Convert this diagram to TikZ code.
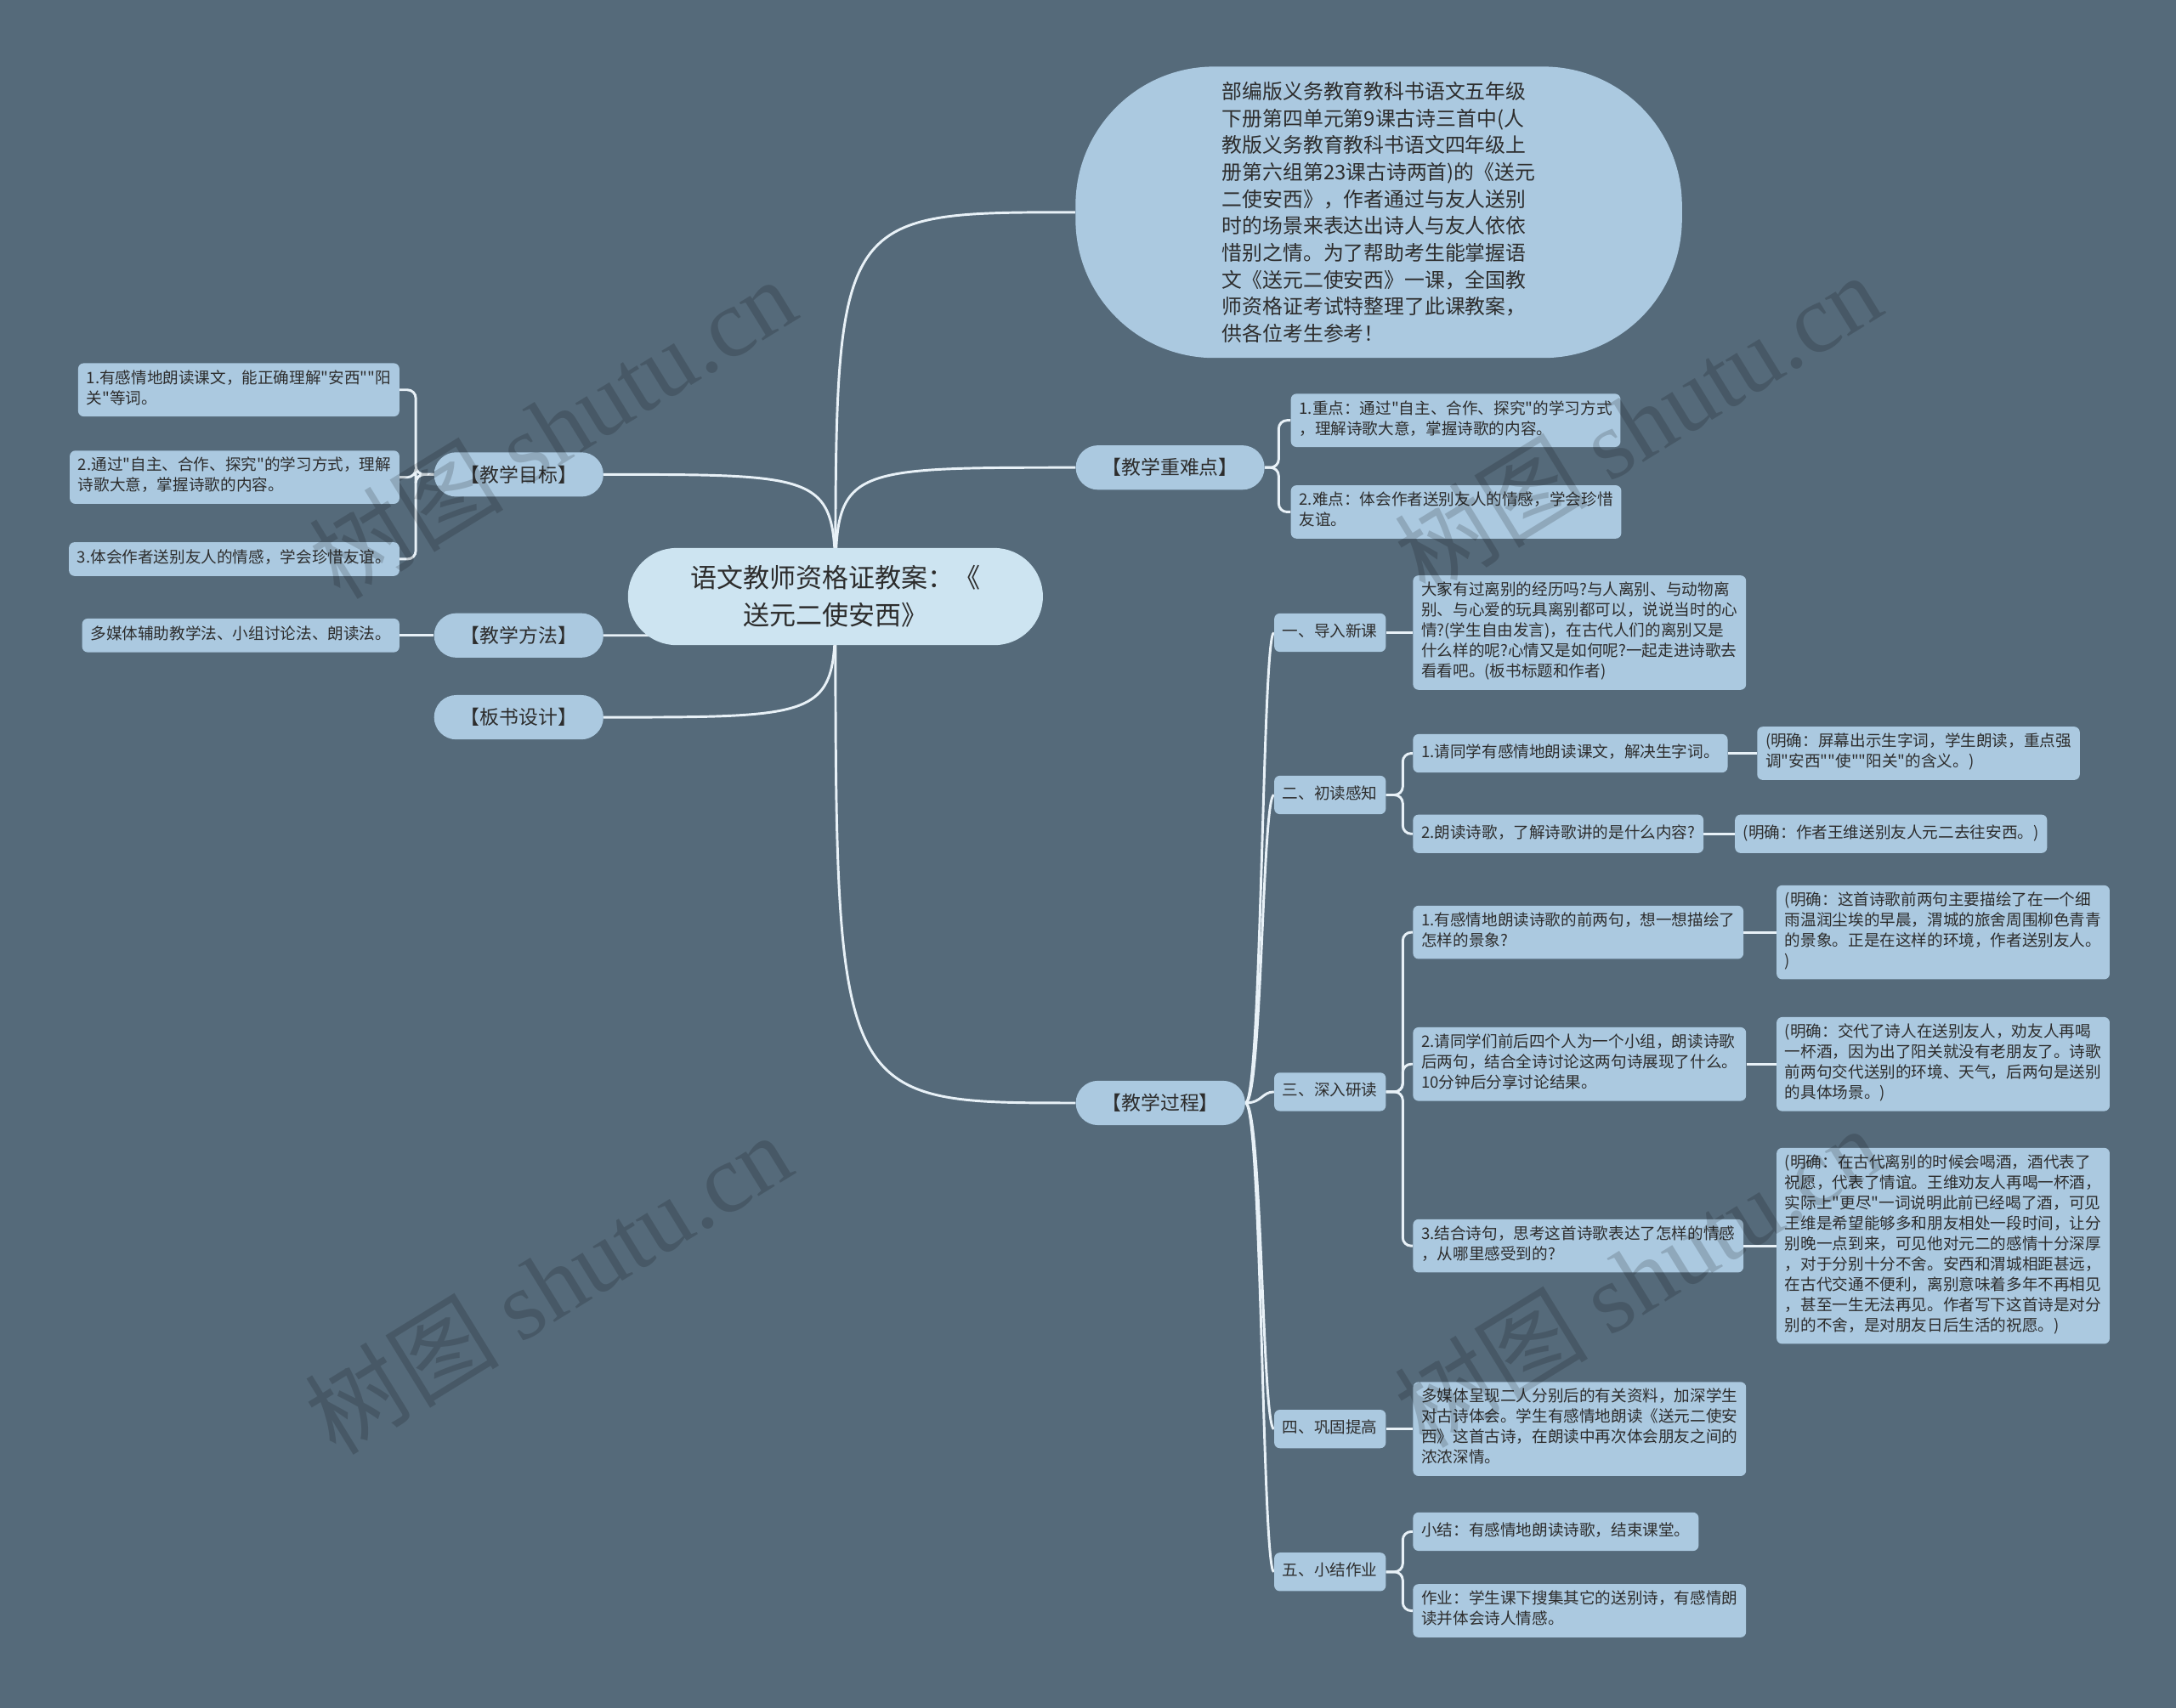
\documentclass[tikz,border=0pt]{standalone}
\usepackage{fontspec}
\setmainfont{Noto Sans CJK SC}[Ligatures=TeXOff]
\newfontfamily\wmserif{Liberation Serif}
\usetikzlibrary{calc}
\definecolor{bgc}{RGB}{85,106,122}
\definecolor{nodec}{RGB}{171,201,224}
\definecolor{rootc}{RGB}{205,228,241}
\definecolor{linec}{RGB}{232,241,247}
\definecolor{txtc}{RGB}{45,45,45}
\pgfdeclarelayer{bglayer}
\pgfdeclarelayer{linelayer}
\pgfsetlayers{bglayer,linelayer,main}
\tikzset{
  conn/.style={draw=linec, line width=1.8pt},
  leaf/.style={fill=nodec, text=txtc, rounded corners=4pt, align=left,
    inner xsep=6pt, inner ysep=4.8pt, font=\fontsize{11.4}{14.7}\selectfont,
    execute at begin node=\strut, execute at end node=\strut},
  mid/.style={leaf, inner ysep=6.5pt},
  pill/.style={fill=nodec, text=txtc, rounded corners=16pt, minimum height=32pt,
    inner xsep=19pt, font=\fontsize{14}{18}\selectfont},
  rootnode/.style={fill=rootc, text=txtc, rounded corners=35pt, minimum width=299pt,
    minimum height=70pt, align=center, font=\fontsize{19}{27}\selectfont},
  topbubble/.style={fill=nodec, text=txtc, rounded corners=100pt, minimum width=437pt,
    minimum height=210pt, align=left, font=\fontsize{14.6}{19.4}\selectfont},
  wm/.style={text=black, text opacity=0.16, font=\fontsize{70}{76}\selectfont, rotate=31.6}
}
\begin{document}
\begin{tikzpicture}[x=1pt,y=-1pt]
\useasboundingbox (0,0) rectangle (1568,1231);
\begin{pgfonlayer}{bglayer}
\fill[bgc] (0,0) rectangle (1568,1231);
\end{pgfonlayer}

% root and main branches
\node[rootnode] (root) at (602,430) {语文教师资格证教案：《\\送元二使安西》};
\node[topbubble] (intro) at (993.5,153) {部编版义务教育教科书语文五年级\\下册第四单元第9课古诗三首中(人\\教版义务教育教科书语文四年级上\\册第六组第23课古诗两首)的《送元\\二使安西》，作者通过与友人送别\\时的场景来表达出诗人与友人依依\\惜别之情。为了帮助考生能掌握语\\文《送元二使安西》一课，全国教\\师资格证考试特整理了此课教案，\\供各位考生参考！};
\node[pill, anchor=east] (goal) at (435,342) {【教学目标】};
\node[pill, anchor=east] (method) at (435,458) {【教学方法】};
\node[pill, anchor=east] (board) at (435,517) {【板书设计】};
\node[pill, anchor=west] (key) at (775,337) {【教学重难点】};
\node[pill, anchor=west] (proc) at (775,795) {【教学过程】};

% left leaves
\node[leaf, anchor=east] (g1) at (288,281) {1.有感情地朗读课文，能正确理解"安西""阳\\关"等词。};
\node[leaf, anchor=east] (g2) at (288,344) {2.通过"自主、合作、探究"的学习方式，理解\\诗歌大意，掌握诗歌的内容。};
\node[leaf, anchor=east] (g3) at (288,403) {3.体会作者送别友人的情感，学会珍惜友谊。};
\node[leaf, anchor=east] (m1) at (288,458) {多媒体辅助教学法、小组讨论法、朗读法。};

% key points
\node[leaf, anchor=west] (k1) at (930,303) {1.重点：通过"自主、合作、探究"的学习方式\\，理解诗歌大意，掌握诗歌的内容。};
\node[leaf, anchor=west] (k2) at (930,369) {2.难点：体会作者送别友人的情感，学会珍惜\\友谊。};

% process
\node[mid, anchor=west] (s1) at (918,456) {一、导入新课};
\node[mid, anchor=west] (s2) at (918,573) {二、初读感知};
\node[mid, anchor=west] (s3) at (918,787) {三、深入研读};
\node[mid, anchor=west] (s4) at (918,1030) {四、巩固提高};
\node[mid, anchor=west] (s5) at (918,1133) {五、小结作业};

\node[leaf, anchor=west] (s1l) at (1018,456) {大家有过离别的经历吗?与人离别、与动物离\\别、与心爱的玩具离别都可以，说说当时的心\\情?(学生自由发言)，在古代人们的离别又是\\什么样的呢?心情又是如何呢?一起走进诗歌去\\看看吧。(板书标题和作者)};

\node[mid, anchor=west] (s2a) at (1018,543) {1.请同学有感情地朗读课文，解决生字词。};
\node[leaf, anchor=west] (s2al) at (1266,543) {(明确：屏幕出示生字词，学生朗读，重点强\\调"安西""使""阳关"的含义。)};
\node[mid, anchor=west] (s2b) at (1018,601) {2.朗读诗歌，了解诗歌讲的是什么内容?};
\node[mid, anchor=west] (s2bl) at (1250,601) {(明确：作者王维送别友人元二去往安西。)};

\node[leaf, anchor=west] (s3a) at (1018,672) {1.有感情地朗读诗歌的前两句，想一想描绘了\\怎样的景象?};
\node[leaf, anchor=west] (s3al) at (1280,672) {(明确：这首诗歌前两句主要描绘了在一个细\\雨温润尘埃的早晨，渭城的旅舍周围柳色青青\\的景象。正是在这样的环境，作者送别友人。\\)};
\node[leaf, anchor=west] (s3b) at (1018,767) {2.请同学们前后四个人为一个小组，朗读诗歌\\后两句，结合全诗讨论这两句诗展现了什么。\\10分钟后分享讨论结果。};
\node[leaf, anchor=west] (s3bl) at (1280,767) {(明确：交代了诗人在送别友人，劝友人再喝\\一杯酒，因为出了阳关就没有老朋友了。诗歌\\前两句交代送别的环境、天气，后两句是送别\\的具体场景。)};
\node[leaf, anchor=west] (s3c) at (1018,898) {3.结合诗句，思考这首诗歌表达了怎样的情感\\，从哪里感受到的?};
\node[leaf, anchor=west] (s3cl) at (1280,898) {(明确：在古代离别的时候会喝酒，酒代表了\\祝愿，代表了情谊。王维劝友人再喝一杯酒，\\实际上"更尽"一词说明此前已经喝了酒，可见\\王维是希望能够多和朋友相处一段时间，让分\\别晚一点到来，可见他对元二的感情十分深厚\\，对于分别十分不舍。安西和渭城相距甚远，\\在古代交通不便利，离别意味着多年不再相见\\，甚至一生无法再见。作者写下这首诗是对分\\别的不舍，是对朋友日后生活的祝愿。)};

\node[leaf, anchor=west] (s4l) at (1018,1030) {多媒体呈现二人分别后的有关资料，加深学生\\对古诗体会。学生有感情地朗读《送元二使安\\西》这首古诗，在朗读中再次体会朋友之间的\\浓浓深情。};

\node[mid, anchor=west] (s5a) at (1018,1104) {小结：有感情地朗读诗歌，结束课堂。};
\node[leaf, anchor=west] (s5b) at (1018,1161) {作业：学生课下搜集其它的送别诗，有感情朗\\读并体会诗人情感。};

% connectors
\begin{pgfonlayer}{linelayer}
\foreach \n in {intro.west, key.west, proc.west, goal.east, method.east, board.east}
  \draw[conn] (root.center) .. controls (root.center |- \n) .. (\n);
\foreach \c in {g1,g2,g3}
  \draw[conn, rounded corners=6pt] (goal.west) -- ++(-13,0) |- (\c.east);
\draw[conn] (method.west) -- (m1.east);
\foreach \c in {k1,k2}
  \draw[conn, rounded corners=6pt] (key.east) -- ++(10,0) |- (\c.west);
\foreach \c in {s1,s2,s3,s4,s5}
  \draw[conn] (proc.east) .. controls ($(proc.east)+(12,0)$) and ($(proc.east |- \c.west)+(12,0)$) .. (\c.west);
\draw[conn] (s1.east) -- (s1l.west);
\foreach \c in {s2a,s2b}
  \draw[conn, rounded corners=6pt] (s2.east) -- ++(12,0) |- (\c.west);
\draw[conn] (s2a.east) -- (s2al.west);
\draw[conn] (s2b.east) -- (s2bl.west);
\foreach \c in {s3a,s3b,s3c}
  \draw[conn, rounded corners=6pt] (s3.east) -- ++(12,0) |- (\c.west);
\draw[conn] (s3a.east) -- (s3al.west);
\draw[conn] (s3b.east) -- (s3bl.west);
\draw[conn] (s3c.east) -- (s3cl.west);
\draw[conn] (s4.east) -- (s4l.west);
\foreach \c in {s5a,s5b}
  \draw[conn, rounded corners=6pt] (s5.east) -- ++(12,0) |- (\c.west);
\end{pgfonlayer}

% watermarks
\node[wm] (wm1) at (398,308) {树图 {\wmserif shutu.cn}};
\node[wm] (wm2) at (1180,305) {树图 {\wmserif shutu.cn}};
\node[wm] (wm3) at (395,925) {树图 {\wmserif shutu.cn}};
\node[wm] (wm4) at (1180,920) {树图 {\wmserif shutu.cn}};
\end{tikzpicture}
\end{document}
